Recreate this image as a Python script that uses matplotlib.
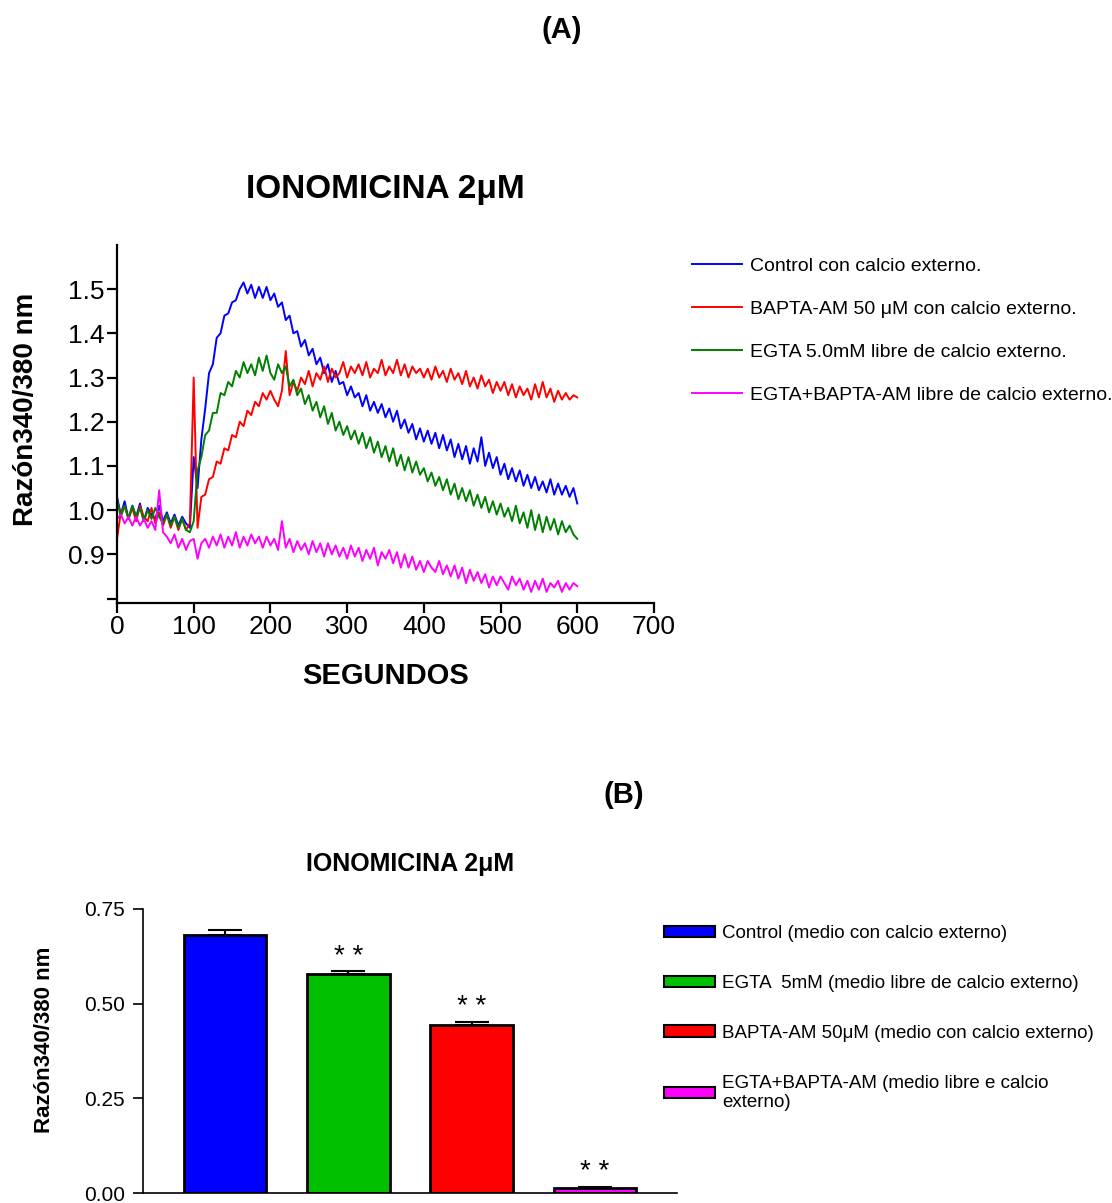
import numpy as np
import matplotlib
matplotlib.use("Agg")
import matplotlib.pyplot as plt
from matplotlib.patches import Patch

plt.rcParams["font.family"] = ["Liberation Sans", "DejaVu Sans"]

# ---- panel A: ratio traces, one value every 5 s (0..600 s) ----
step_s = 5
control = [1.03, 0.99, 1.02, 0.98, 1.01, 0.985, 1.015, 0.975, 1.005, 0.99,
           0.98, 1.01, 0.975, 0.995, 0.97, 0.99, 0.965, 0.985, 0.97, 0.96,
           1.12, 1.05, 1.16, 1.23, 1.31, 1.33, 1.39, 1.40, 1.44, 1.445,
           1.47, 1.475, 1.50, 1.515, 1.49, 1.51, 1.48, 1.505, 1.48, 1.505,
           1.475, 1.49, 1.46, 1.47, 1.43, 1.44, 1.40, 1.405, 1.37, 1.385,
           1.35, 1.365, 1.33, 1.345, 1.31, 1.33, 1.29, 1.315, 1.285, 1.29,
           1.26, 1.28, 1.255, 1.265, 1.235, 1.26, 1.225, 1.245, 1.22, 1.24,
           1.21, 1.23, 1.20, 1.225, 1.185, 1.205, 1.175, 1.195, 1.16, 1.185,
           1.155, 1.18, 1.15, 1.175, 1.14, 1.17, 1.135, 1.16, 1.12, 1.15,
           1.115, 1.145, 1.105, 1.14, 1.11, 1.165, 1.10, 1.13, 1.095, 1.12,
           1.08, 1.105, 1.07, 1.095, 1.065, 1.09, 1.055, 1.08, 1.05, 1.075,
           1.045, 1.065, 1.04, 1.07, 1.035, 1.06, 1.035, 1.055, 1.03, 1.05,
           1.015]
bapta = [0.935, 0.995, 1.01, 0.98, 1.005, 0.975, 1.01, 0.985, 0.975, 1.005,
         0.97, 0.995, 0.965, 0.99, 0.96, 0.985, 0.955, 0.98, 0.955, 0.97,
         1.30, 0.96, 1.03, 1.035, 1.07, 1.075, 1.11, 1.105, 1.14, 1.135,
         1.17, 1.165, 1.20, 1.19, 1.225, 1.215, 1.245, 1.235, 1.265, 1.25,
         1.27, 1.25, 1.235, 1.27, 1.36, 1.26, 1.29, 1.27, 1.30, 1.285,
         1.315, 1.28, 1.31, 1.295, 1.325, 1.29, 1.32, 1.30, 1.31, 1.335,
         1.30, 1.325, 1.31, 1.33, 1.305, 1.335, 1.30, 1.32, 1.31, 1.34,
         1.305, 1.325, 1.31, 1.34, 1.305, 1.33, 1.30, 1.325, 1.31, 1.32,
         1.30, 1.32, 1.295, 1.325, 1.30, 1.315, 1.29, 1.32, 1.295, 1.31,
         1.285, 1.315, 1.28, 1.30, 1.275, 1.305, 1.28, 1.295, 1.265, 1.29,
         1.27, 1.29, 1.26, 1.285, 1.255, 1.28, 1.26, 1.275, 1.25, 1.285,
         1.255, 1.29, 1.255, 1.275, 1.245, 1.27, 1.25, 1.265, 1.25, 1.26,
         1.255]
egta = [1.025, 0.985, 1.01, 0.98, 1.01, 0.985, 1.005, 0.975, 1.00, 0.98,
        1.005, 0.985, 0.97, 0.99, 0.965, 0.985, 0.96, 0.98, 0.955, 0.95,
        0.975, 1.09, 1.12, 1.17, 1.18, 1.22, 1.22, 1.265, 1.26, 1.29,
        1.28, 1.315, 1.30, 1.335, 1.31, 1.33, 1.305, 1.345, 1.315, 1.35,
        1.31, 1.295, 1.33, 1.31, 1.325, 1.28, 1.295, 1.26, 1.275, 1.24,
        1.26, 1.225, 1.245, 1.21, 1.235, 1.195, 1.22, 1.18, 1.20, 1.17,
        1.19, 1.16, 1.18, 1.15, 1.175, 1.14, 1.165, 1.13, 1.155, 1.12,
        1.145, 1.11, 1.14, 1.10, 1.125, 1.09, 1.12, 1.085, 1.11, 1.08,
        1.095, 1.065, 1.085, 1.055, 1.075, 1.045, 1.07, 1.035, 1.06, 1.025,
        1.05, 1.02, 1.045, 1.01, 1.035, 1.005, 1.03, 0.995, 1.02, 0.99,
        1.015, 0.985, 1.005, 0.975, 1.01, 0.97, 0.995, 0.96, 1.00, 0.955,
        0.99, 0.95, 0.985, 0.955, 0.98, 0.945, 0.975, 0.95, 0.965, 0.945,
        0.935]
egta_bapta = [0.98, 0.99, 0.97, 0.985, 0.965, 0.985, 0.965, 0.98, 0.96, 0.975,
              0.955, 1.045, 0.95, 0.94, 0.925, 0.945, 0.915, 0.935, 0.91, 0.93,
              0.935, 0.89, 0.925, 0.935, 0.915, 0.94, 0.92, 0.945, 0.915, 0.94,
              0.92, 0.95, 0.915, 0.94, 0.92, 0.945, 0.925, 0.94, 0.915, 0.94,
              0.92, 0.935, 0.91, 0.975, 0.915, 0.935, 0.905, 0.93, 0.91, 0.925,
              0.90, 0.93, 0.905, 0.925, 0.895, 0.925, 0.90, 0.92, 0.895, 0.915,
              0.89, 0.92, 0.895, 0.915, 0.885, 0.91, 0.89, 0.915, 0.875, 0.905,
              0.89, 0.91, 0.88, 0.905, 0.87, 0.90, 0.87, 0.895, 0.865, 0.885,
              0.86, 0.885, 0.87, 0.86, 0.885, 0.855, 0.875, 0.85, 0.875, 0.845,
              0.87, 0.835, 0.865, 0.84, 0.86, 0.835, 0.855, 0.825, 0.85, 0.83,
              0.85, 0.835, 0.82, 0.85, 0.83, 0.845, 0.82, 0.84, 0.815, 0.84,
              0.82, 0.845, 0.815, 0.835, 0.825, 0.84, 0.815, 0.835, 0.82, 0.835,
              0.828]
trace_labels = ["Control con calcio externo.",
                "BAPTA-AM 50 \u03bcM con calcio externo.",
                "EGTA 5.0mM libre de calcio externo.",
                "EGTA+BAPTA-AM libre de calcio externo."]
trace_colors = ["#0000ff", "#ff0000", "#008000", "#ff00ff"]

# ---- panel B: mean ratio +/- SEM ----
bar_labels = ["Control (medio con calcio externo)",
              "EGTA  5mM (medio libre de calcio externo)",
              "BAPTA-AM 50\u03bcM (medio con calcio externo)",
              "EGTA+BAPTA-AM (medio libre e calcio\nexterno)"]
bar_means = [0.680, 0.578, 0.444, 0.012]
bar_sem = [0.014, 0.008, 0.008, 0.004]
bar_stars = ["", "* *", "* *", "* *"]
bar_colors = ["#0000ff", "#00c000", "#ff0000", "#ff00ff"]

fig = plt.figure(figsize=(11.12, 12.03), dpi=100)

# ------------------------- panel A -------------------------
ax = fig.add_axes([0.1052, 0.4988, 0.4829, 0.2976])
series = [control, bapta, egta, egta_bapta]
for vals, lab, col in zip(series, trace_labels, trace_colors):
    t = np.arange(len(vals)) * step_s
    ax.plot(t, vals, color=col, lw=1.4, label=lab)

ax.set_xlim(0, 700)
ax.set_ylim(0.79, 1.6)
ax.set_xticks(range(0, 701, 100))
yt = [0.8, 0.9, 1.0, 1.1, 1.2, 1.3, 1.4, 1.5]
ax.set_yticks(yt)
ax.set_yticklabels([""] + [f"{v:.1f}" for v in yt[1:]])
for s in ["top", "right"]:
    ax.spines[s].set_visible(False)
for s in ["left", "bottom"]:
    ax.spines[s].set_linewidth(1.6)
ax.tick_params(direction="out", length=7, width=1.6, labelsize=19, pad=2)
ax.set_xlabel("SEGUNDOS", fontsize=21, fontweight="bold")
ax.xaxis.set_label_coords(0.5, -0.165)
ax.set_ylabel("Raz\u00f3n340/380 nm", fontsize=20, fontweight="bold")
ax.yaxis.set_label_coords(-0.145, 0.54)
ax.set_title("IONOMICINA 2\u03bcM", fontsize=24, fontweight="bold", pad=34)

ax.legend(loc="upper left", bbox_to_anchor=(0.622, 0.786),
          bbox_transform=fig.transFigure, frameon=False, fontsize=14,
          handlelength=2.6, handletextpad=0.4, labelspacing=1.3,
          borderpad=0, borderaxespad=0)

fig.text(562 / 1112, 1 - 30 / 1203, "(A)", fontsize=21, fontweight="bold",
         ha="center", va="center")

# ------------------------- panel B -------------------------
ax2 = fig.add_axes([0.1286, 0.0083, 0.4802, 0.2361])
xpos = np.arange(len(bar_means))
ax2.bar(xpos, bar_means, width=0.667, color=bar_colors, edgecolor="black",
        linewidth=2, zorder=2)
ax2.errorbar(xpos, bar_means, yerr=[np.zeros(len(bar_sem)), bar_sem],
             fmt="none", ecolor="black", elinewidth=1.5, capsize=12,
             capthick=1.5, zorder=3)
for x, m, e, s in zip(xpos, bar_means, bar_sem, bar_stars):
    if s:
        ax2.text(x, m + e + 0.004, s, ha="center", va="bottom", fontsize=20)

ax2.set_xlim(-0.67, 3.67)
ax2.set_ylim(0, 0.75)
ax2.set_xticks([])
ax2.set_yticks([0, 0.25, 0.5, 0.75])
ax2.set_yticklabels(["0.00", "0.25", "0.50", "0.75"])
for s in ["top", "right"]:
    ax2.spines[s].set_visible(False)
for s in ["left", "bottom"]:
    ax2.spines[s].set_linewidth(1.2)
ax2.tick_params(axis="y", direction="out", length=7, width=1.2,
                labelsize=15, pad=6)
ax2.set_ylabel("Raz\u00f3n340/380 nm", fontsize=16, fontweight="bold")
ax2.yaxis.set_label_coords(-0.165, 0.54)
ax2.set_title("IONOMICINA 2\u03bcM", fontsize=18, fontweight="bold", pad=27)

handles = [Patch(facecolor=c, edgecolor="black", linewidth=1.5) for c in bar_colors]
ax2.legend(handles, bar_labels, loc="upper left", bbox_to_anchor=(0.597, 0.231),
           bbox_transform=fig.transFigure, frameon=False, fontsize=13.5,
           handlelength=2.75, handleheight=0.55, handletextpad=0.35,
           labelspacing=1.75, borderpad=0, borderaxespad=0)

fig.text(624 / 1112, 1 - 795 / 1203, "(B)", fontsize=21, fontweight="bold",
         ha="center", va="center")

fig.savefig("out.png", dpi=100)
